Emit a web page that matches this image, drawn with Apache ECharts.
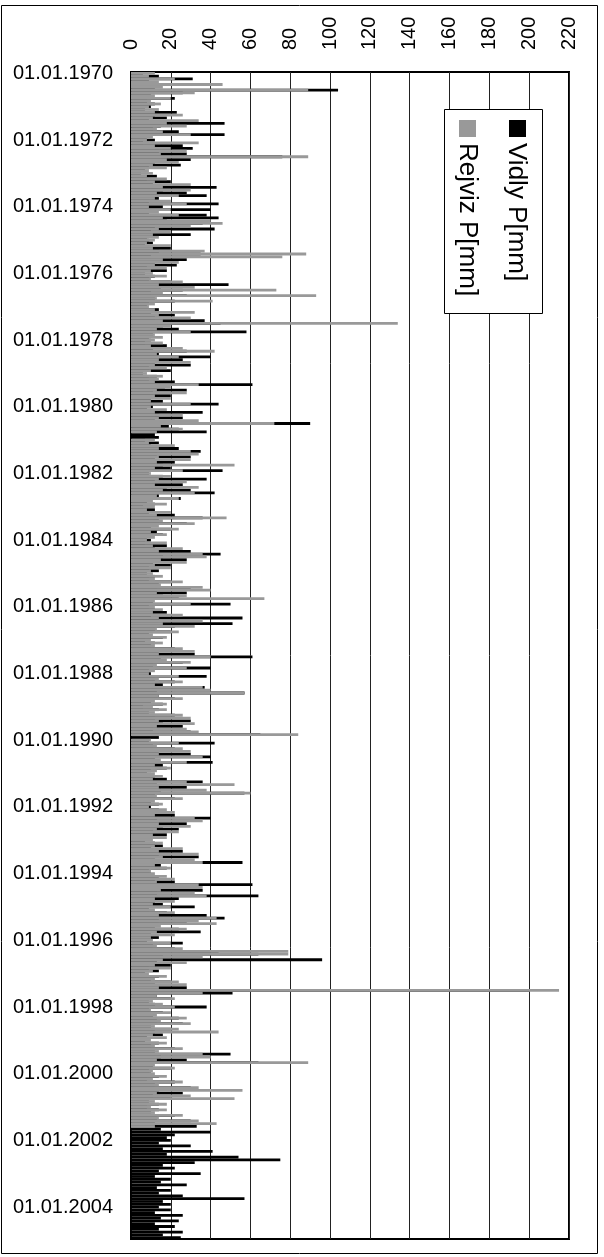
<!DOCTYPE html>
<html>
<head>
<meta charset="utf-8">
<script src="https://cdn.jsdelivr.net/npm/echarts@6/dist/echarts.min.js"></script>
<style>
html, body { margin: 0; padding: 0; background: #fff; }
#chartDiv { width: 604px; height: 1257px; }
</style>
</head>
<body>
<div id="chartDiv"></div>
<script>
// init
var myChart = echarts.init(document.getElementById('chartDiv'));

// data: monthly maximum daily precipitation [mm], one row per year (Jan..Dec)
var firstYear = 1970;
var lastYear = 2004;
var seriesNames = ['Vidly P[mm]', 'Rejviz P[mm]'];

var vidly = [
    6, 14, 31, 9, 20, 12, 104, 26, 10, 22, 8, 12,       // 1970
    10, 7, 23, 12, 18, 9, 47, 15, 11, 24, 47, 8,        // 1971
    12, 6, 26, 31, 14, 28, 76, 30, 12, 25, 9, 7,        // 1972
    5, 13, 8, 20, 11, 43, 16, 28, 38, 14, 9, 44,        // 1973
    16, 40, 9, 38, 44, 18, 36, 12, 42, 10, 30, 8,       // 1974
    9, 11, 7, 20, 14, 35, 10, 28, 12, 23, 8, 18,        // 1975
    7, 12, 9, 20, 49, 15, 26, 10, 28, 12, 22, 9,        // 1976
    8, 14, 10, 22, 12, 37, 45, 16, 24, 58, 11, 9,       // 1977
    10, 7, 18, 11, 28, 14, 40, 26, 12, 30, 9, 20,       // 1978
    6, 13, 9, 22, 61, 17, 28, 11, 20, 10, 16, 44,       // 1979
    11, 8, 36, 14, 26, 12, 90, 19, 24, 38, 12, 14,      // 1980
    7, 14, 10, 24, 35, 13, 30, 12, 22, 16, 20, 46,      // 1981
    9, 16, 38, 12, 26, 18, 30, 42, 14, 25, 8, 12,       // 1982
    6, 12, 9, 22, 36, 14, 28, 10, 20, 13, 16, 8,        // 1983
    10, 7, 18, 12, 30, 45, 16, 28, 11, 20, 9, 14,       // 1984
    8, 12, 9, 20, 14, 30, 13, 28, 16, 24, 11, 50,       // 1985
    9, 12, 18, 10, 56, 14, 51, 22, 12, 20, 9, 16,       // 1986
    7, 12, 10, 22, 14, 32, 61, 15, 26, 11, 40, 9,       // 1987
    10, 38, 12, 22, 16, 37, 13, 57, 14, 22, 10, 16,     // 1988
    6, 14, 9, 22, 12, 30, 16, 26, 11, 30, 65, 14,       // 1989
    9, 42, 11, 22, 14, 30, 40, 12, 41, 16, 18, 10,      // 1990
    8, 12, 18, 36, 13, 28, 15, 57, 12, 22, 10, 14,      // 1991
    10, 14, 9, 22, 40, 13, 28, 16, 24, 11, 18, 8,       // 1992
    7, 12, 16, 10, 26, 14, 34, 12, 56, 15, 18, 9,       // 1993
    10, 14, 12, 22, 61, 16, 36, 13, 64, 24, 12, 16,     // 1994
    32, 9, 18, 38, 47, 14, 28, 12, 24, 35, 10, 14,      // 1995
    8, 26, 11, 22, 44, 64, 16, 96, 13, 20, 9, 14,       // 1996
    7, 14, 10, 20, 12, 28, 200, 51, 13, 20, 9, 12,      // 1997
    38, 9, 16, 11, 24, 13, 26, 10, 20, 12, 16, 8,       // 1998
    7, 14, 10, 22, 12, 50, 15, 28, 64, 11, 20, 9,       // 1999
    10, 14, 8, 22, 12, 30, 14, 26, 11, 20, 9, 14,       // 2000
    8, 14, 10, 22, 13, 30, 12, 33, 15, 40, 22, 18,      // 2001
    20, 14, 30, 16, 41, 18, 54, 75, 32, 16, 22, 14,     // 2002
    35, 12, 20, 15, 28, 13, 20, 14, 26, 57, 16, 20,     // 2003
    14, 20, 12, 26, 15, 24, 12, 22, 14, 26, 16, 25      // 2004
];

var rejviz = [
    12, 9, 22, 14, 46, 16, 89, 32, 12, 20, 10, 15,      // 1970
    9, 14, 12, 26, 11, 34, 18, 28, 13, 16, 30, 11,      // 1971
    8, 34, 12, 20, 28, 15, 89, 18, 24, 11, 18, 9,       // 1972
    11, 8, 18, 12, 30, 16, 30, 13, 24, 12, 20, 28,      // 1973
    9, 20, 14, 24, 16, 40, 46, 30, 14, 20, 11, 14,      // 1974
    12, 8, 20, 11, 37, 88, 76, 16, 24, 12, 18, 10,      // 1975
    11, 18, 10, 26, 14, 32, 73, 16, 93, 13, 41, 12,     // 1976
    9, 12, 32, 14, 30, 16, 134, 20, 13, 30, 12, 16,     // 1977
    12, 16, 10, 26, 42, 13, 24, 14, 30, 12, 18, 10,     // 1978
    8, 16, 14, 12, 34, 20, 13, 28, 12, 20, 10, 30,      // 1979
    10, 18, 12, 26, 14, 34, 72, 15, 26, 13, null, null, // 1980
    12, 9, 22, 14, 30, 34, 14, 30, 13, 52, 12, 26,      // 1981
    10, 20, 14, 28, 12, 34, 16, 32, 13, 24, 11, 18,     // 1982
    12, 8, 20, 13, 48, 16, 32, 14, 24, 10, 18, 12,      // 1983
    8, 18, 11, 26, 14, 36, 38, 15, 28, 12, 20, 10,      // 1984
    11, 16, 12, 26, 15, 36, 40, 13, 28, 67, 12, 30,     // 1985
    12, 16, 11, 26, 14, 36, 16, 32, 13, 24, 11, 18,     // 1986
    10, 16, 12, 26, 32, 14, 40, 18, 30, 13, 28, 12,     // 1987
    9, 24, 14, 26, 12, 36, 40, 57, 14, 26, 12, 18,      // 1988
    11, 18, 12, 26, 30, 14, 32, 13, 28, 34, 84, null,   // 1989
    10, 24, 13, 26, 30, 14, 36, 15, 28, 12, 20, 13,     // 1990
    12, 16, 11, 28, 52, 14, 38, 60, 13, 26, 12, 16,     // 1991
    9, 18, 22, 12, 32, 36, 14, 30, 13, 24, 11, 18,      // 1992
    11, 16, 12, 26, 14, 34, 16, 32, 36, 12, 20, 10,     // 1993
    12, 18, 22, 13, 34, 36, 15, 32, 38, 12, 22, 11,     // 1994
    20, 12, 22, 14, 43, 34, 43, 15, 28, 13, 22, 10,     // 1995
    11, 20, 13, 26, 79, 79, 36, 16, 28, 12, 20, 11,     // 1996
    9, 18, 12, 24, 28, 14, 215, 36, 13, 22, 11, 16,     // 1997
    22, 10, 20, 13, 28, 15, 30, 12, 24, 44, 11, 18,     // 1998
    10, 18, 12, 26, 14, 36, 40, 13, 89, 12, 22, 11,     // 1999
    12, 18, 11, 26, 14, 34, 56, 13, 30, 52, 12, 18,     // 2000
    10, 18, 12, 26, 14, 34, 43, 12, null, null, null, null, // 2001
    null, null, null, null, null, null, null, null, null, null, null, null, // 2002
    null, null, null, null, null, null, null, null, null, null, null, null, // 2003
    null, null, null, null, null, null, null, null, null, null, null, null  // 2004
];

// month categories
var months = [];
for (var y = firstYear; y <= lastYear; y++) {
    for (var m = 1; m <= 12; m++) {
        months.push(y + '-' + (m < 10 ? '0' : '') + m);
    }
}

var fontFamily = '"Liberation Sans", Arial, sans-serif';

var option = {
    backgroundColor: '#fff',
    animation: false,
    grid: {
        left: 131,
        right: 35,
        top: 72,
        bottom: 18,
        show: true,
        borderColor: '#000',
        borderWidth: 2,
        backgroundColor: 'transparent'
    },
    xAxis: {
        type: 'value',
        position: 'top',
        min: 0,
        max: 220,
        interval: 20,
        axisLine: { show: false },
        axisTick: { show: false },
        splitLine: { show: true, lineStyle: { color: '#222', width: 1 } },
        axisLabel: {
            rotate: -90,
            margin: 22,
            color: '#000',
            fontSize: 20,
            fontFamily: fontFamily
        }
    },
    yAxis: {
        type: 'category',
        inverse: true,
        data: months,
        axisLine: { show: false },
        axisTick: { show: false },
        splitLine: { show: false },
        axisLabel: {
            interval: function (index) { return index % 24 === 0; },
            formatter: function (value) { return '01.01.' + value.slice(0, 4); },
            margin: 18,
            color: '#000',
            fontSize: 20,
            fontFamily: fontFamily
        }
    },
    series: [
        {
            name: seriesNames[0],
            type: 'bar',
            data: vidly,
            barGap: '-100%',
            barCategoryGap: '0%',
            itemStyle: { color: '#000' },
            silent: true
        },
        {
            name: seriesNames[1],
            type: 'bar',
            data: rejviz,
            barGap: '-100%',
            barCategoryGap: '0%',
            itemStyle: { color: '#999' },
            silent: true
        }
    ],
    graphic: [
        {
            type: 'rect', z: 100, silent: true,
            shape: { x: 1.5, y: 5.5, width: 596, height: 1248 },
            style: { fill: 'none', stroke: '#000', lineWidth: 1 }
        },
        {
            type: 'rect', z: 100, silent: true,
            shape: { x: 444.5, y: 109.5, width: 98, height: 204 },
            style: { fill: '#fff', stroke: '#000', lineWidth: 1 }
        },
        {
            type: 'rect', z: 101, silent: true,
            shape: { x: 509, y: 120, width: 17, height: 17 },
            style: { fill: '#000' }
        },
        {
            type: 'rect', z: 101, silent: true,
            shape: { x: 459, y: 120, width: 17, height: 17 },
            style: { fill: '#999' }
        },
        {
            type: 'text', z: 101, silent: true,
            x: 516, y: 143, rotation: -Math.PI / 2,
            style: {
                text: seriesNames[0], fill: '#000',
                font: '26px ' + fontFamily,
                align: 'left', verticalAlign: 'middle'
            }
        },
        {
            type: 'text', z: 101, silent: true,
            x: 467, y: 143, rotation: -Math.PI / 2,
            style: {
                text: seriesNames[1], fill: '#000',
                font: '26px ' + fontFamily,
                align: 'left', verticalAlign: 'middle'
            }
        }
    ]
};
myChart.setOption(option);
window.onresize = myChart.resize;
</script>
</body>
</html>
